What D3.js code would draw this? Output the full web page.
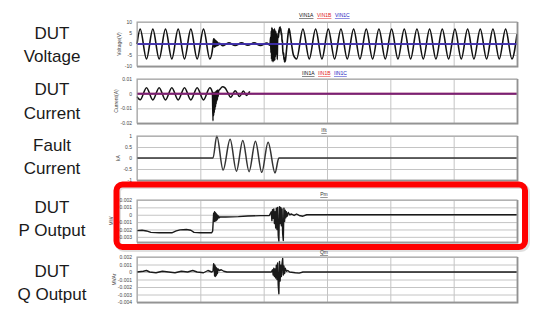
<!DOCTYPE html>
<html>
<head>
<meta charset="utf-8">
<script src="https://cdn.jsdelivr.net/npm/d3@7"></script>
<style>
  body { margin: 0; background: #fff; }
  svg { display: block; font-family: "Liberation Sans", Arial, sans-serif; }
</style>
</head>
<body>
<svg id="chart" width="550" height="321"></svg>
<script>
// time axis in ms, gridlines every 100 ms
const timeTicks = [0, 100, 200, 300, 400, 500, 600];

// DUT voltage, [ms, V]
const vin1a = [
  [0, 0], [5, 6.8], [15, -6.8], [25, 6.8], [35, -6.8], [45, 6.8], [55, -6.8], [65, 6.8],
  [75, -6.8], [85, 6.8], [95, -6.8], [105, 6.8], [115, -6.8], [120, -0.5],
  [121, 2.4], [121.5, -1.2], [122, 2.2], [122.5, -1.4], [123, 2], [123.5, -1.2], [124, 1.6],
  [124.5, -1], [125, 1.4], [125.5, -0.9], [126, 1.1], [126.5, -0.8], [127, 0.9], [127.5, -0.6],
  [128, 0.6], [129, -0.4], [130, 0.3],
  [135, -0.8], [145, 0.5], [155, -0.7], [165, 0.5], [175, -0.6], [185, 0.5], [195, -0.7], [205, 0.4],
  [210, -0.5], [211, 3], [211.5, -4], [212, 6], [212.5, -7], [213, 7.5], [213.5, -8], [214, 7],
  [214.5, -6], [215, 5], [215.5, -8], [216, 6.5], [216.5, -5], [217, 7], [217.5, -7.5], [218, 4],
  [218.5, -6], [219, 6], [219.5, -3], [220, 5], [220.5, -5], [221, 3], [221.5, -7], [222, 2],
  [223, 5], [223.5, 3], [224, 6.5], [224.5, 5], [225, 7.5], [225.5, 6], [226, 7.8], [226.5, 6.2],
  [227, 7], [228, 4], [228.5, 5], [229, 1], [229.5, 2], [230, -2], [231, -5], [231.5, -4],
  [232, -7], [232.5, -6], [233, -8.2], [233.5, -7], [234, -8], [235, -6], [236, -3], [237, 0],
  [238, 3], [239, 5.5], [240, 7], [241, 6], [242, 4], [244, 0], [247, -5], [252, -6.8],
  [262, 6.8], [272, -6.8], [282, 6.8], [292, -6.8], [302, 6.8], [312, -6.8], [322, 6.8], [332, -6.8],
  [342, 6.8], [352, -6.8], [362, 6.8], [372, -6.8], [382, 6.8], [392, -6.8], [402, 6.8], [412, -6.8],
  [422, 6.8], [432, -6.8], [442, 6.8], [452, -6.8], [462, 6.8], [472, -6.8], [482, 6.8], [492, -6.8],
  [502, 6.8], [512, -6.8], [522, 6.8], [532, -6.8], [542, 6.8], [552, -6.8], [562, 6.8], [572, -6.8],
  [582, 6.8], [592, -6.8], [600, 4.5]
];
const vin1b = [[0, 0], [600, 0]];
const vin1c = [[0, 0], [600, 0]];

// DUT current, [ms, A]
const iin1a = [
  [0, -0.002], [5, -0.0042], [15, 0.0041], [25, -0.0043], [35, 0.0041], [45, -0.0043],
  [55, 0.0041], [65, -0.0043], [75, 0.0041], [85, -0.0043], [95, 0.0041], [105, -0.0043],
  [115, 0.0041], [119, 0.001],
  [120, -0.0185], [120.5, 0.001], [121, -0.015], [121.5, 0], [122, -0.013], [122.5, 0.001],
  [123, -0.011], [123.5, 0.001], [124, -0.009], [124.5, 0.0015], [125, -0.007], [125.5, 0.002],
  [126, -0.005], [126.5, 0.002], [127, -0.004], [127.5, 0.0025], [128, -0.002], [129, 0.002],
  [131, 0.003], [135, 0.0047], [139, 0.004], [143, 0.001], [148, -0.0025], [155, 0.002],
  [162, -0.002], [168, 0.0018], [173, -0.0012], [178, 0.0015]
];
const iin1b = [[0, 0], [600, 0]];
const iin1c = [[0, 0], [600, 0]];

// fault current, [ms, kA]
const iFault = [
  [0, 0], [120, 0], [126, 1], [136, -0.55], [147, 0.85], [157, -0.6], [167, 0.8], [177, -0.62],
  [187, 0.76], [197, -0.65], [207, 0.72], [218, -0.68], [224, 0], [600, 0]
];

// DUT P output, [ms, MW]
const pOut = [
  [0, -0.00215], [8, -0.0021], [15, -0.0022], [22, -0.0024], [35, -0.00245], [55, -0.00245],
  [62, -0.0022], [68, -0.00205], [78, -0.002], [85, -0.0021], [90, -0.0024], [100, -0.00245],
  [118, -0.00245], [119.5, -0.0022], [121, 0.0002],
  [122, -0.0009], [122.5, 0.0004], [123, -0.0009], [123.5, 0.0003], [124, -0.0008], [124.5, 0.0002],
  [125, -0.0008], [125.5, 0.0001], [126, -0.0007], [126.5, 0], [127, -0.0006], [127.5, -0.0001],
  [128, -0.0005], [129, -0.0002], [130, -0.0004], [131, -0.0003], [140, -0.0003], [160, -0.00025],
  [175, -0.00018], [195, -0.00012], [209, -0.0001],
  [212, 0.0004], [213, -0.0008], [214, 0.0007], [215, -0.0005], [216, 0.0008], [217, -0.0012],
  [218, 0.0004], [219, -0.0018], [220, 0.0009], [221, -0.002], [222, 0.001], [223, -0.0028],
  [224, -0.0036], [225, 0.0011], [226, -0.0012], [227, 0.001], [228, -0.0015], [229, 0.0008],
  [230, -0.0026], [231, -0.0035], [232, 0.0009], [233, -0.0009], [234, 0.0006], [235, -0.0004],
  [236, 0.0004], [237, -0.0002], [239, 0.0003], [241, 0], [244, 0.0001], [248, -0.0001],
  [252, 0.0001], [256, -0.0001], [262, -0.0002], [268, 0], [600, 0]
];

// DUT Q output, [ms, MVAr]
const qOut = [
  [0, 0], [10, 0.0001], [15, 0.0002], [20, 0], [30, -0.0001], [40, 0.0001], [50, 0],
  [60, -0.0001], [70, 0.0001], [80, 0], [88, 0.0002], [95, 0], [105, -0.0001], [112, 0.0002],
  [118, 0], [120, 0.0001],
  [121, 0.0011], [122, 0.0008], [122.5, -0.0005], [123, 0.0009], [123.5, -0.0006], [124, 0.0007],
  [124.5, -0.0005], [125, 0.0006], [125.5, -0.0004], [126, 0.0005], [127, -0.0002], [128, 0.0004],
  [130, 0.0002], [133, 0.0003], [137, 0.0001], [142, 0], [212, 0],
  [214, 0.0003], [215, -0.0004], [216, 0.0005], [217, -0.0006], [218, 0.0004], [219, -0.0008],
  [220, 0.0009], [221, -0.001], [222, 0.0012], [223, -0.0018], [224, -0.0029], [225, 0.0014],
  [226, -0.0012], [227, 0.0009], [228, -0.0006], [229, 0.0011], [230, 0.0018], [231, -0.0004],
  [232, 0.0008], [233, -0.0002], [234, 0.0005], [236, 0.0001], [238, 0.0002], [241, 0],
  [250, -0.0001], [256, -0.00015], [262, 0], [600, 0]
];

// y ticks per panel
const voltTicks = [10, 5, 0, -5, -10];
const voltTickLabels = ["10", "5", "0", "-5", "-10"];
const currTicks = [0.01, 0, -0.01, -0.02];
const currTickLabels = ["0.01", "0", "-0.01", "-0.02"];
const faultTicks = [1, 0.5, 0, -0.5, -1];
const faultTickLabels = ["1", "0.5", "0", "-0.5", "-1"];
const pTicks = [0.002, 0.001, 0, -0.001, -0.002, -0.003];
const pTickLabels = ["0.002", "0.001", "0", "-0.001", "-0.002", "-0.003"];
const qTicks = [0.002, 0.001, 0, -0.001, -0.002, -0.003, -0.004];
const qTickLabels = ["0.002", "0.001", "0", "-0.001", "-0.002", "-0.003", "-0.004"];

const svg = d3.select("#chart");
const plotLeft = 137, plotRight = 517;

const x = d3.scaleLinear().domain([0, 600]).range([plotLeft, plotRight]);

const panels = [
  {
    top: 22, bottom: 66, domain: [-10, 10], ticks: voltTicks, labels: voltTickLabels,
    yLabel: "Voltage(V)", yLabelX: 121, name: ["DUT", "Voltage"], nameY: [38.5, 62],
    legend: { x: 299, y: 17, items: [["VIN1A", "#111"], ["VIN1B", "#e02020"], ["VIN1C", "#2020c0"]] },
    series: [
      { data: vin1a, color: "#111", width: 1.6, curve: d3.curveMonotoneX },
      { data: vin1b, color: "#e02020", width: 1.6 },
      { data: vin1c, color: "#1530d0", width: 1.6 }
    ]
  },
  {
    top: 79, bottom: 123, domain: [-0.02, 0.01], ticks: currTicks, labels: currTickLabels,
    yLabel: "Current(A)", yLabelX: 118, name: ["DUT", "Current"], nameY: [94.5, 118.5],
    legend: { x: 302, y: 75, items: [["IIN1A", "#111"], ["IIN1B", "#e02020"], ["IIN1C", "#2020c0"]] },
    series: [
      { data: iin1a, color: "#111", width: 1.5, curve: d3.curveMonotoneX },
      { data: iin1b, color: "#d02020", width: 2 },
      { data: iin1c, color: "#3020c0", width: 2, opacity: 0.55 }
    ]
  },
  {
    top: 136, bottom: 180, domain: [-1, 1], ticks: faultTicks, labels: faultTickLabels,
    yLabel: "kA", yLabelX: 120, name: ["Fault", "Current"], nameY: [151, 174],
    title: { x: 324, y: 132, text: "Iflt" },
    series: [{ data: iFault, color: "#333", width: 1.5, curve: d3.curveMonotoneX }]
  },
  {
    top: 200, bottom: 242, domain: [-0.0037, 0.002], ticks: pTicks, labels: pTickLabels,
    yLabel: "MW", yLabelX: 113, name: ["DUT", "P Output"], nameY: [213, 236],
    title: { x: 324, y: 196, text: "Pm" },
    series: [{ data: pOut, color: "#1a1a1a", width: 1.4 }]
  },
  {
    top: 257, bottom: 302, domain: [-0.004, 0.002], ticks: qTicks, labels: qTickLabels,
    yLabel: "MVAr", yLabelX: 116, name: ["DUT", "Q Output"], nameY: [277, 300],
    title: { x: 324, y: 254, text: "Qm" },
    series: [{ data: qOut, color: "#1a1a1a", width: 1.4 }]
  }
];

panels.forEach((p) => {
  const y = d3.scaleLinear().domain(p.domain).range([p.bottom, p.top]);
  const g = svg.append("g");

  // left caption
  g.selectAll(".name")
    .data(p.name)
    .enter()
    .append("text")
    .attr("x", 52)
    .attr("y", (d, i) => p.nameY[i])
    .attr("text-anchor", "middle")
    .attr("font-size", 17)
    .attr("fill", "#1a1a1a")
    .text((d) => d);

  // grid
  g.append("g")
    .attr("transform", `translate(0, ${p.bottom})`)
    .call(d3.axisBottom(x).tickValues(timeTicks).tickSize(-(p.bottom - p.top)).tickFormat(""))
    .call((a) => a.select(".domain").remove())
    .selectAll("line")
    .attr("stroke", "#c4c4c4");

  g.append("g")
    .attr("transform", `translate(${plotLeft}, 0)`)
    .call(d3.axisLeft(y).tickValues(p.ticks).tickSize(-(plotRight - plotLeft)).tickFormat(""))
    .call((a) => a.select(".domain").remove())
    .selectAll("line")
    .attr("stroke", "#c4c4c4");

  // tick labels
  g.append("g")
    .attr("transform", `translate(${plotLeft - 2}, 0)`)
    .call(d3.axisLeft(y).tickValues(p.ticks).tickSize(0).tickFormat((d, i) => p.labels[i]))
    .call((a) => a.select(".domain").remove())
    .selectAll("text")
    .attr("font-size", 5)
    .attr("fill", "#444")
    .attr("font-family", "Liberation Sans, Arial, sans-serif");

  // y label
  g.append("text")
    .attr("transform", `translate(${p.yLabelX}, ${(p.top + p.bottom) / 2}) rotate(-90)`)
    .attr("text-anchor", "middle")
    .attr("font-size", 5)
    .attr("fill", "#444")
    .text(p.yLabel);

  // series
  p.series.forEach((s) => {
    const line = d3.line()
      .x((d) => x(d[0]))
      .y((d) => y(d[1]))
      .curve(s.curve || d3.curveLinear);
    g.append("path")
      .datum(s.data)
      .attr("fill", "none")
      .attr("stroke", s.color)
      .attr("stroke-width", s.width)
      .attr("stroke-opacity", s.opacity || 1)
      .attr("stroke-linejoin", "round")
      .attr("d", line);
  });

  // frame
  g.append("rect")
    .attr("x", plotLeft)
    .attr("y", p.top)
    .attr("width", plotRight - plotLeft)
    .attr("height", p.bottom - p.top)
    .attr("fill", "none")
    .attr("stroke", "#a0a0a0");
  g.append("path")
    .attr("d", `M${plotLeft},${p.bottom + 0.8}H${plotRight + 0.8}V${p.top}`)
    .attr("fill", "none")
    .attr("stroke", "#8a8a8a")
    .attr("stroke-width", 1.2);

  // legend / title (underlined small text)
  if (p.legend) {
    let lx = p.legend.x;
    p.legend.items.forEach(([txt, col]) => {
      const t = g.append("text")
        .attr("x", lx)
        .attr("y", p.legend.y)
        .attr("font-size", 5)
        .attr("fill", col)
        .attr("text-decoration", "underline")
        .text(txt);
      lx += t.node().getComputedTextLength() + 3.5;
    });
  }
  if (p.title) {
    g.append("text")
      .attr("x", p.title.x)
      .attr("y", p.title.y)
      .attr("text-anchor", "middle")
      .attr("font-size", 5)
      .attr("fill", "#333")
      .attr("text-decoration", "underline")
      .text(p.title.text);
  }
});

// red highlight around P output
svg.append("rect")
  .attr("x", 118).attr("y", 186)
  .attr("width", 409).attr("height", 63)
  .attr("rx", 6)
  .attr("fill", "none")
  .attr("stroke", "#000")
  .attr("stroke-opacity", 0.12)
  .attr("stroke-width", 6);
svg.append("rect")
  .attr("x", 116.5).attr("y", 184.5)
  .attr("width", 408.5).attr("height", 62.5)
  .attr("rx", 6)
  .attr("fill", "none")
  .attr("stroke", "#ff0000")
  .attr("stroke-width", 6);
</script>
</body>
</html>
